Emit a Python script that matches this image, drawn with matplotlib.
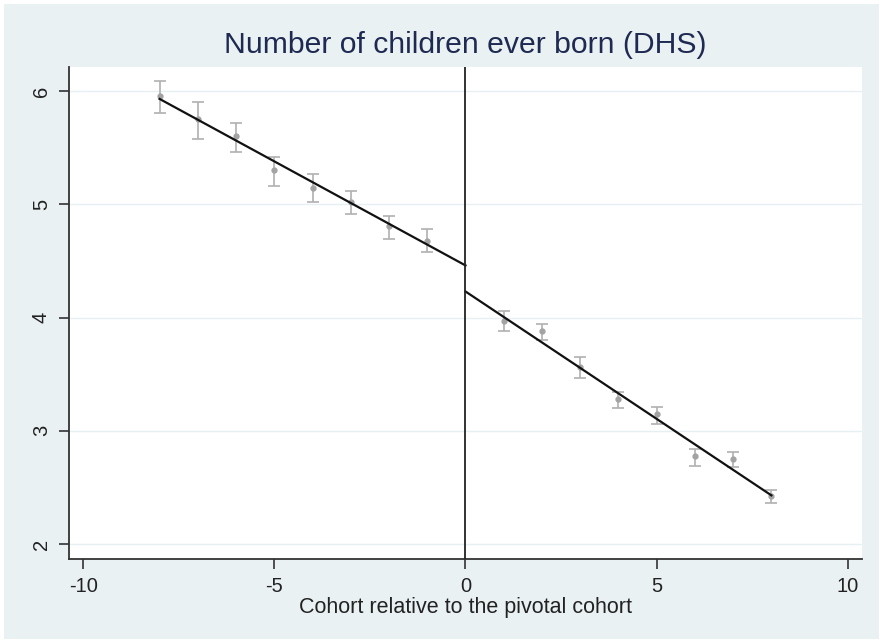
import matplotlib
matplotlib.use("Agg")
import matplotlib.pyplot as plt
from matplotlib.patches import Rectangle

plt.rcParams['font.family'] = ['Liberation Sans', 'DejaVu Sans']

# Data
cohort_left = [-8, -7, -6, -5, -4, -3, -2, -1]
mean_left = [5.96, 5.75, 5.60, 5.30, 5.14, 5.02, 4.81, 4.68]
lo_left = [5.81, 5.58, 5.46, 5.16, 5.02, 4.91, 4.69, 4.58]
hi_left = [6.09, 5.90, 5.72, 5.42, 5.27, 5.12, 4.90, 4.78]

cohort_right = [1, 2, 3, 4, 5, 6, 7, 8]
mean_right = [3.97, 3.88, 3.56, 3.28, 3.15, 2.78, 2.75, 2.42]
lo_right = [3.88, 3.80, 3.47, 3.20, 3.06, 2.69, 2.68, 2.36]
hi_right = [4.06, 3.94, 3.65, 3.34, 3.21, 2.84, 2.81, 2.48]

fit_left_x = [-8, 0]
fit_left_y = [5.93, 4.46]
fit_right_x = [0, 8]
fit_right_y = [4.23, 2.43]

xticks = [-10, -5, 0, 5, 10]
yticks = [2, 3, 4, 5, 6]

title = "Number of children ever born (DHS)"
xlabel = "Cohort relative to the pivotal cohort"

bg = "#eaf1f3"
fig = plt.figure(figsize=(8.83, 6.43), dpi=100, facecolor="white")
bgrect = Rectangle((4/883, 4/643), 1 - 8/883, 1 - 8/643,
                   transform=fig.transFigure, facecolor=bg,
                   edgecolor="none", zorder=-10)
fig.patches.append(bgrect)
ax = fig.add_axes([69/883, 1 - 559/643, (862 - 69)/883, (559 - 67)/643])
ax.set_zorder(5)
ax.set_facecolor("white")

for xs, m, lo, hi in [(cohort_left, mean_left, lo_left, hi_left),
                      (cohort_right, mean_right, lo_right, hi_right)]:
    yerr = [[mi - l for mi, l in zip(m, lo)], [h - mi for mi, h in zip(m, hi)]]
    ax.errorbar(xs, m, yerr=yerr, fmt='o', color="#a3a3a3", ecolor="#b0b0b0",
                markersize=3.5, elinewidth=1.2, capsize=4.5, capthick=1.2, zorder=3)

ax.plot(fit_left_x, fit_left_y, color="#111111", lw=1.6, zorder=4)
ax.plot(fit_right_x, fit_right_y, color="#111111", lw=1.6, zorder=4)
ax.axvline(0, color="#222222", lw=1.3, zorder=4)

ax.set_xlim(-10.37, 10.37)
ax.set_ylim(1.868, 6.212)
ax.set_xticks(xticks)
ax.set_yticks(yticks)
ax.set_xticklabels([str(t) for t in xticks])
ax.set_yticklabels([str(t) for t in yticks], rotation=90, va="center")
ax.yaxis.grid(True, color="#e6eff1", lw=1.0)
ax.set_axisbelow(True)
for s in ["top", "right"]:
    ax.spines[s].set_visible(False)
for s in ["left", "bottom"]:
    ax.spines[s].set_color("#333333")
    ax.spines[s].set_linewidth(1.3)
ax.tick_params(axis="both", length=7, width=1.2, color="#333333",
               labelsize=14.5, labelcolor="#222222")
ax.tick_params(axis="x", pad=6)
ax.tick_params(axis="y", pad=6)
ax.set_xlabel(xlabel, fontsize=15.5, color="#222222", labelpad=1)
fig.text(465/883, 1 - 45/643, title, ha="center", va="center",
         fontsize=21.7, color="#1e2a52")

fig.savefig("out.png", dpi=100, facecolor=fig.get_facecolor())
